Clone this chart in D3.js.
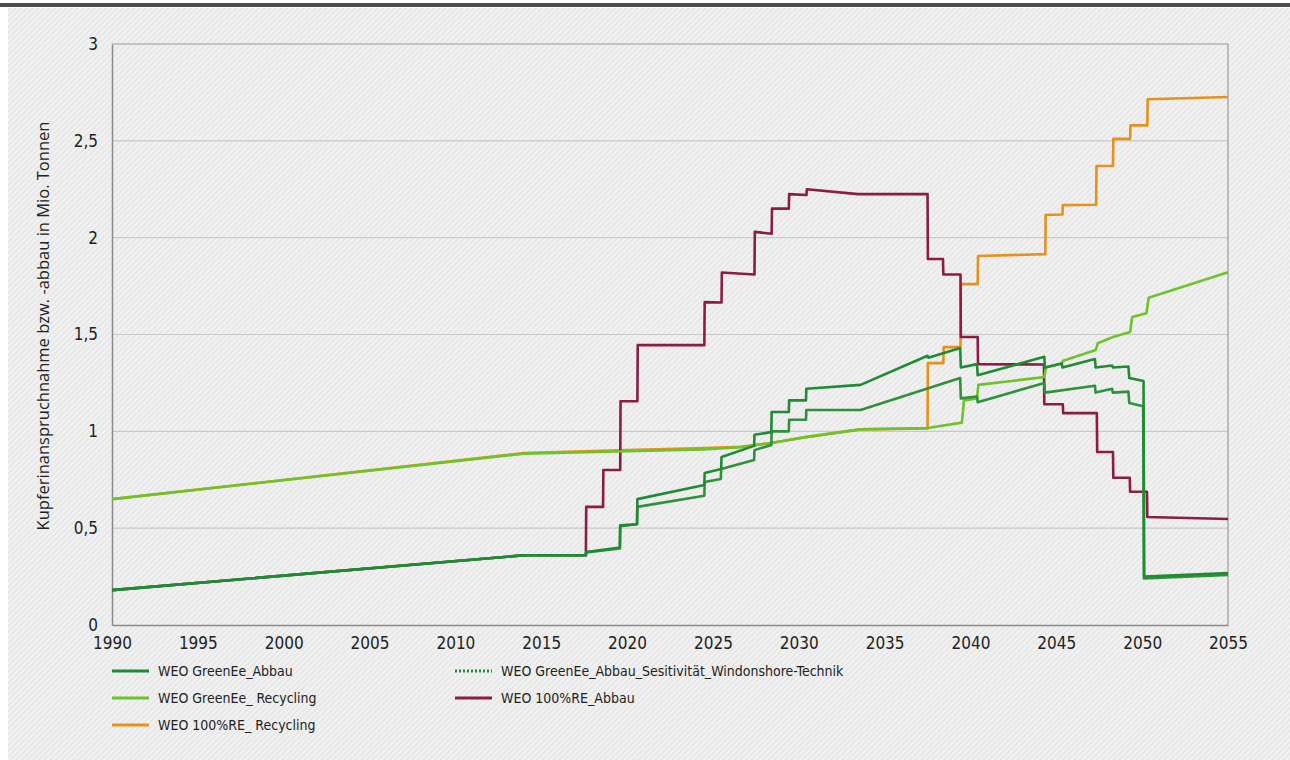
<!DOCTYPE html>
<html><head><meta charset="utf-8">
<script src="https://cdn.jsdelivr.net/npm/d3@7"></script>
<style>
html,body{margin:0;padding:0;background:#fff;}
svg{display:block;}
</style></head>
<body>
<svg id="chart" width="1290" height="760"></svg>
<script>
// ---------- DATA ----------
const xTickValues = [1990,1995,2000,2005,2010,2015,2020,2025,2030,2035,2040,2045,2050,2055];
const yTickValues = [0,0.5,1,1.5,2,2.5,3];
const yTickLabels = ["0","0,5","1","1,5","2","2,5","3"];
const yAxisTitle = "Kupferinanspruchnahme bzw. -abbau in Mio. Tonnen";

const seriesNames = [
  "WEO GreenEe_Abbau",
  "WEO GreenEe_Abbau_Sesitivität_Windonshore-Technik",
  "WEO GreenEe_ Recycling",
  "WEO 100%RE_Abbau",
  "WEO 100%RE_ Recycling"
];

// 100%RE Abbau (maroon)
const reAbbauYears  = [1990,2014,2017.6,2017.62,2018.6,2018.62,2019.6,2019.62,2020.6,2020.62,2024.5,2024.52,2025.5,2025.52,2027.42,2027.44,2028.42,2028.44,2029.42,2029.44,2030.45,2030.47,2033.45,2037.5,2037.52,2038.4,2038.42,2039.42,2039.44,2040.42,2040.44,2044.28,2044.3,2045.38,2045.4,2047.36,2047.38,2048.3,2048.32,2049.28,2049.3,2050.28,2050.3,2055];
const reAbbauValues = [0.18,0.36,0.36,0.61,0.61,0.80,0.80,1.155,1.155,1.445,1.445,1.667,1.665,1.82,1.81,2.03,2.02,2.15,2.15,2.225,2.22,2.25,2.225,2.225,1.89,1.89,1.81,1.81,1.487,1.487,1.347,1.345,1.14,1.14,1.094,1.094,0.893,0.893,0.76,0.76,0.688,0.688,0.558,0.547];

// 100%RE Recycling (orange)
const reRecYears  = [1990,2014,2020,2024.5,2026.6,2028.4,2030.4,2033.6,2037.5,2037.52,2038.42,2038.44,2039.42,2039.44,2040.42,2040.44,2044.36,2044.38,2045.36,2045.38,2047.32,2047.34,2048.3,2048.32,2049.3,2049.32,2050.3,2050.32,2055];
const reRecValues = [0.65,0.888,0.904,0.914,0.92,0.94,0.97,1.01,1.015,1.352,1.352,1.435,1.435,1.76,1.76,1.905,1.915,2.117,2.12,2.168,2.17,2.37,2.37,2.51,2.51,2.58,2.58,2.715,2.726];

// GreenEe Recycling (light green)
const geRecYears  = [1990,2014,2020,2024.5,2026.6,2028.4,2030.4,2033.6,2037.5,2039.5,2039.62,2040.38,2040.46,2044.3,2044.4,2045.3,2045.4,2047.3,2047.42,2048.3,2049.3,2049.42,2050.25,2050.38,2055];
const geRecValues = [0.65,0.885,0.897,0.907,0.918,0.94,0.97,1.01,1.017,1.045,1.16,1.17,1.24,1.28,1.33,1.35,1.365,1.42,1.455,1.487,1.513,1.59,1.61,1.69,1.822];

// GreenEe Abbau (dark green, upper)
const geAbbauYears  = [1990,2014,2017.6,2017.62,2019.58,2019.6,2020.58,2020.6,2024.5,2024.52,2025.48,2025.5,2027.4,2027.42,2028.4,2028.42,2029.42,2029.44,2030.42,2030.44,2033.6,2037.5,2037.55,2039.4,2039.44,2040.38,2040.42,2044.3,2044.34,2045.32,2045.36,2047.25,2047.29,2048.25,2048.29,2049.2,2049.25,2050.08,2050.12,2055];
const geAbbauValues = [0.18,0.36,0.36,0.377,0.40,0.515,0.52,0.65,0.723,0.785,0.805,0.867,0.925,0.982,0.996,1.10,1.10,1.16,1.16,1.22,1.24,1.39,1.38,1.43,1.33,1.347,1.29,1.385,1.33,1.35,1.33,1.373,1.33,1.34,1.33,1.335,1.275,1.26,0.25,0.268];

// GreenEe Abbau sensitivity (dark green, lower)
const geSensYears  = [1990,2014,2017.6,2017.62,2019.58,2019.6,2020.58,2020.6,2024.5,2024.52,2025.46,2025.48,2027.4,2027.42,2028.4,2028.42,2029.42,2029.44,2030.42,2030.44,2033.6,2039.4,2039.44,2040.38,2040.42,2044.3,2044.34,2047.25,2047.29,2048.25,2048.29,2049.2,2049.25,2050.06,2050.1,2055];
const geSensValues = [0.18,0.36,0.36,0.375,0.395,0.51,0.52,0.61,0.667,0.738,0.754,0.805,0.852,0.903,0.93,1.0,1.0,1.06,1.06,1.11,1.11,1.275,1.17,1.18,1.15,1.25,1.20,1.235,1.20,1.22,1.20,1.205,1.146,1.13,0.24,0.258];

const colors = {
  geAbbau: "#1f8b34",
  geSens: "#2f9139",
  geRec: "#6cc42a",
  reAbbau: "#8c1c42",
  reRec: "#e8901c"
};

// ---------- CHART ----------
const W = 1290, H = 760;
const margin = {left:112, right:62, top:44, bottom:135};
const svg = d3.select("#chart");

const defs = svg.append("defs");
const pat = defs.append("pattern").attr("id","hatch").attr("patternUnits","userSpaceOnUse")
  .attr("width",4).attr("height",4).attr("patternTransform","rotate(45)");
pat.append("rect").attr("width",4).attr("height",4).attr("fill","#f2f2f2");
pat.append("rect").attr("width",1.5).attr("height",4).attr("fill","#e4e4e4");

svg.append("rect").attr("x",0).attr("y",0).attr("width",W).attr("height",H).attr("fill","#fff");
svg.append("rect").attr("x",8).attr("y",8).attr("width",W-8).attr("height",H-8).attr("fill","url(#hatch)");
svg.append("rect").attr("x",0).attr("y",3).attr("width",W).attr("height",4).attr("fill","#4d4d4d");

const x = d3.scaleLinear().domain([1990,2055]).range([margin.left, W-margin.right]);
const y = d3.scaleLinear().domain([0,3]).range([H-margin.bottom, margin.top]);

// gridlines
svg.append("g").selectAll("line").data(yTickValues.filter(v=>v>0 && v<3)).join("line")
  .attr("x1",x(1990)).attr("x2",x(2055)).attr("y1",d=>y(d)).attr("y2",d=>y(d))
  .attr("stroke","#c9c9c9").attr("stroke-width",1.2);

// frame
svg.append("line").attr("x1",x(1990)).attr("x2",x(2055)).attr("y1",y(3)).attr("y2",y(3)).attr("stroke","#9a9a9a").attr("stroke-width",1.2);
svg.append("line").attr("x1",x(2055)).attr("x2",x(2055)).attr("y1",y(3)).attr("y2",y(0)).attr("stroke","#9a9a9a").attr("stroke-width",1.2);

// axes
const fontTick = "'Liberation Sans Narrow','DejaVu Sans Condensed',sans-serif";
const xAxis = d3.axisBottom(x).tickValues(xTickValues).tickFormat(d3.format("d")).tickSize(0).tickPadding(12);
const gx = svg.append("g").attr("transform",`translate(0,${y(0)})`).call(xAxis);
gx.select(".domain").attr("stroke","#8a8a8a").attr("stroke-width",1.5);
gx.selectAll("text").attr("font-family",fontTick).attr("font-size",17).attr("fill","#222");

const yAxis = d3.axisLeft(y).tickValues(yTickValues).tickFormat((d,i)=>yTickLabels[i]).tickSize(0).tickPadding(14);
const gy = svg.append("g").attr("transform",`translate(${x(1990)},0)`).call(yAxis);
gy.select(".domain").attr("stroke","#8a8a8a").attr("stroke-width",1.5);
gy.selectAll("text").attr("font-family",fontTick).attr("font-size",17).attr("fill","#222");

svg.append("text").attr("transform",`translate(49,326) rotate(-90)`)
  .attr("text-anchor","middle").attr("font-family","'Open Sans',sans-serif").attr("font-size",16.5).attr("fill","#222")
  .text(yAxisTitle);

// lines
const line = d3.line().x(d=>x(d[0])).y(d=>y(d[1]));
const series = [
  {key:"reRec", years:reRecYears, values:reRecValues, color:colors.reRec},
  {key:"reAbbau", years:reAbbauYears, values:reAbbauValues, color:colors.reAbbau},
  {key:"geRec", years:geRecYears, values:geRecValues, color:colors.geRec},
  {key:"geSens", years:geSensYears, values:geSensValues, color:colors.geSens},
  {key:"geAbbau", years:geAbbauYears, values:geAbbauValues, color:colors.geAbbau}
];
svg.append("g").selectAll("path").data(series).join("path")
  .attr("d",s=>line(s.years.map((yr,i)=>[yr,s.values[i]])))
  .attr("fill","none").attr("stroke",s=>s.color).attr("stroke-width",2.6)
  .attr("stroke-linejoin","round");

// legend
const legendItems = [
  {name:seriesNames[0], color:colors.geAbbau, dash:null, col:0, row:0},
  {name:seriesNames[1], color:colors.geAbbau, dash:"2,2", col:1, row:0},
  {name:seriesNames[2], color:colors.geRec, dash:null, col:0, row:1},
  {name:seriesNames[3], color:colors.reAbbau, dash:null, col:1, row:1},
  {name:seriesNames[4], color:colors.reRec, dash:null, col:0, row:2}
];
const lg = svg.append("g").selectAll("g").data(legendItems).join("g")
  .attr("transform",d=>`translate(${d.col===0?112:455},${671+d.row*27})`);
lg.append("line").attr("x1",0).attr("x2",37).attr("y1",0).attr("y2",0)
  .attr("stroke",d=>d.color).attr("stroke-width",3).attr("stroke-dasharray",d=>d.dash);
lg.append("text").attr("x",46).attr("y",5).attr("font-family",fontTick).attr("font-size",14).attr("fill","#222")
  .text(d=>d.name);
</script>
</body></html>
